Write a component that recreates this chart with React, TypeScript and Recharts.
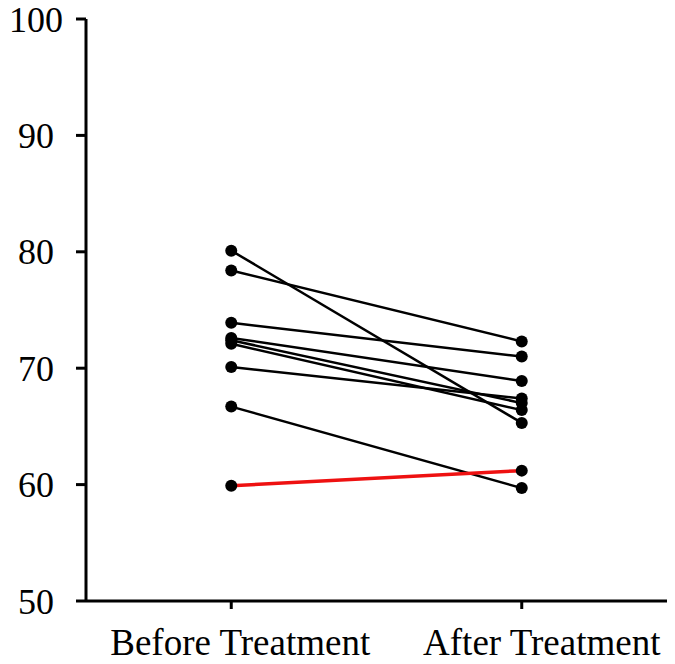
import React from "react";
import { LineChart, Line, XAxis, YAxis } from "recharts";

if (typeof document !== "undefined") {
  document.body.style.margin = "0";
}

const categories = ["Before Treatment", "After Treatment"];
const beforeValues = [80.1, 78.4, 73.9, 72.6, 72.4, 72.1, 70.1, 66.7, 59.9];
const afterValues = [65.3, 72.3, 71.0, 68.9, 67.0, 66.4, 67.4, 59.7, 61.2];
const highlighted = [false, false, false, false, false, false, false, false, true];
const yTicks = [50, 60, 70, 80, 90, 100];

const data = categories.map((name, i) => {
  const row: Record<string, number | string> = { name };
  const src = i === 0 ? beforeValues : afterValues;
  src.forEach((v, k) => {
    row["s" + k] = v;
  });
  return row;
});

const FONT = "'Liberation Serif', 'Times New Roman', serif";

function YTick(props: any) {
  const { x, y, payload } = props;
  return (
    <text x={x - 34} y={y} dy="0.35em" textAnchor="middle" fontFamily={FONT} fontSize={36} fill="#000">
      {payload.value}
    </text>
  );
}

function XTick(props: any) {
  const { x, y, payload, index } = props;
  const shift = index === 0 ? 9 : 20;
  return (
    <text x={x + shift} y={y} dy={42} textAnchor="middle" fontFamily={FONT} fontSize={37} fill="#000">
      {payload.value}
    </text>
  );
}

export default function App() {
  return (
    <div style={{ width: 675, height: 664, background: "#fff" }}>
      <LineChart width={675} height={664} data={data} margin={{ top: 19, right: 8, left: 0, bottom: 0 }}>
        <XAxis
          dataKey="name"
          scale="band"
          height={63}
          tickSize={8}
          tickMargin={4}
          axisLine={{ stroke: "#000", strokeWidth: 3 }}
          tickLine={{ stroke: "#000", strokeWidth: 3 }}
          tick={<XTick />}
          interval={0}
        />
        <YAxis
          width={86}
          domain={[50, 100]}
          ticks={yTicks}
          tickSize={10}
          tickMargin={6}
          axisLine={{ stroke: "#000", strokeWidth: 3 }}
          tickLine={{ stroke: "#000", strokeWidth: 3 }}
          tick={<YTick />}
          interval={0}
        />
        {beforeValues.map((_, k) => (
          <Line
            key={k}
            type="linear"
            dataKey={"s" + k}
            stroke={highlighted[k] ? "#ee1111" : "#000"}
            strokeWidth={highlighted[k] ? 3.5 : 2.5}
            dot={{ r: 6, fill: "#000", stroke: "#000", strokeWidth: 0 }}
            activeDot={false}
            isAnimationActive={false}
          />
        ))}
      </LineChart>
    </div>
  );
}
